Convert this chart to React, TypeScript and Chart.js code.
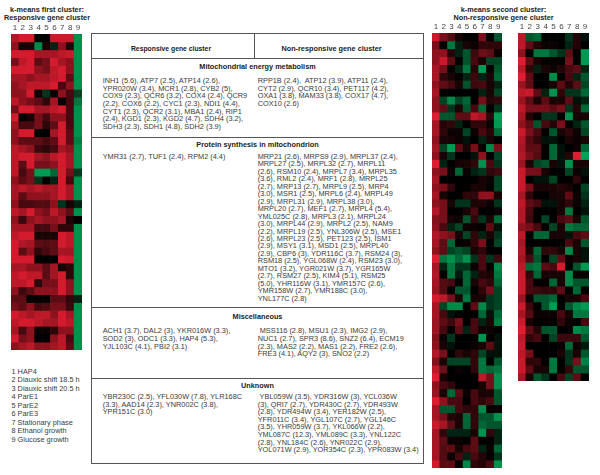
import React, { useEffect, useRef } from "react";
import { Chart, registerables } from "chart.js";

Chart.register(...registerables);

const FONT = "'Liberation Sans', Arial, sans-serif";
const conditions = ["1", "2", "3", "4", "5", "6", "7", "8", "9"];

const firstCluster: number[][] = [
  [.75,.9,.9,0,0,.85,.85,.85,-.85],
  [.6,.1,.1,-.8,.1,-.2,.6,.15,-.85],
  [.9,.9,.9,.7,.7,.7,.8,.85,-.85],
  [.5,.8,.9,.4,.5,.9,.7,.6,-.85],
  [.9,.9,.9,.6,.5,.8,.9,.6,-.85],
  [.7,.7,.6,.7,.7,.8,.9,.4,-.85],
  [.6,.7,.8,.8,.8,.9,.3,.6,-.85],
  [.6,.6,.9,.05,-.3,.05,.6,.3,-.4],
  [.8,.6,.5,.4,.2,.7,0,.3,-.7],
  [.5,.9,.9,.7,.7,.8,.9,.3,-.85],
  [.9,0,.1,.5,.3,.6,.6,.3,-.85],
  [.7,.3,.3,.5,.2,.4,.9,.3,-.85],
  [.6,.9,.9,0,0,.7,.9,.4,-.85],
  [.6,.4,.4,.4,.3,.4,.9,.4,-.75],
  [.8,.7,.6,.25,.2,.3,.7,.6,-.85],
  [.8,.9,.9,.7,.6,.8,.9,.7,-.85],
  [.8,.4,.9,.5,.5,.6,.9,.7,-.85],
  [.8,.3,.5,-.9,-.9,-.6,.9,.5,-.35],
  [.6,.4,.5,-.3,0,-.2,.9,.3,-.85],
  [.7,.8,.7,.8,.7,.7,.9,.7,-.85],
  [.7,.4,.6,.6,.6,.7,.9,.7,-.85],
  [.6,.3,.3,.35,.35,.6,-.3,.1,-.2],
  [.8,.7,.9,.6,.5,.8,.6,.4,-.85],
  [.6,.25,.6,.7,.6,.6,.7,.1,0],
  [.7,.7,.7,.3,.3,.5,.2,.2,-.85],
  [.8,.9,.9,.1,.1,.1,.9,.8,-.85],
  [.9,.75,.7,.4,.35,.4,.9,.8,-.85],
  [.9,.4,.6,.2,.3,.4,.7,.7,-.85],
  [.9,.9,.9,0,0,0,.9,.85,-.85],
  [.7,.7,.6,.6,.4,.7,.1,.2,-.85],
  [.8,.9,.8,.8,.4,.7,.9,.2,-.85],
  [.8,.8,.9,.2,.5,.5,.9,.6,-.85],
  [.6,.25,.4,.6,.6,.6,.9,.6,-.85],
  [.4,.4,0,0,0,.4,.4,.2,-.2],
  [.5,.4,.6,.3,.35,.5,.5,.25,-.85],
  [.9,.8,.7,.8,.8,.6,.9,.7,-.85],
  [.8,.9,.9,.8,.7,.7,.9,.8,-.85],
  [.7,.3,.6,.05,.05,.2,.6,.6,-.85],
  [.9,.5,.6,0,0,.6,.8,.3,-.85],
  [.6,.7,.8,.6,.6,.7,.8,.4,-.85],
];

const secondClusterA: number[][] = [
  [.85,.5,.35,.1,0,0,.5,0,-.5],
  [.5,0,-.7,-.2,.1,.05,.2,.2,.2],
  [.6,.6,.15,-.2,-.5,.25,.45,.4,.05],
  [.6,.85,.4,0,-.5,.3,.1,-.4,-.4],
  [.7,.5,0,-.2,-.7,.15,-.9,0,-.5],
  [.7,.2,.1,0,-.2,.25,-.2,.1,-.6],
  [.6,.4,.3,.1,-.5,.25,.3,.1,-.2],
  [.7,0,0,0,0,0,-.2,.1,-.4],
  [.6,-.4,-.8,-.4,-.6,0,.5,.15,.2],
  [.6,.4,-.3,.1,-.5,.3,-.6,0,-.3],
  [.95,-.5,-.5,.4,.4,.8,.7,.2,-.95],
  [.7,.15,.2,-.2,0,.2,.2,.05,-.9],
  [.7,.2,.05,.05,-.4,.05,.3,.15,-.6],
  [.6,.1,.1,.05,-.1,0,-.2,.1,0],
  [.7,-.4,-.9,.4,.1,.5,0,-.8,.5],
  [.6,.1,-.3,0,0,-.1,.6,0,-.4],
  [.95,-.2,0,.1,.1,.2,-.85,.3,-.3],
  [.6,.5,.05,-.6,.05,-.2,-.3,.2,.25],
  [.7,0,0,0,0,0,.1,.05,-.4],
  [.6,.5,.2,0,0,.1,.1,0,-.4],
  [.7,.1,0,0,.2,.2,.6,.6,.1],
  [.6,.5,.1,-.3,-.3,.1,.15,.05,-.3],
  [.75,.5,0,0,.1,.3,0,0,.05],
  [.55,.5,.1,.05,-.5,.2,-.3,.1,-.6],
  [.6,.3,-.2,-.4,.05,.05,0,.4,-.1],
  [.75,.6,.5,.1,-.4,.2,-.2,.1,-.3],
  [.7,.4,-.6,0,.05,.2,.5,0,-.4],
  [.6,.4,-.4,-.5,-.4,.1,.2,0,0],
  [.95,-.7,-.85,-.6,-.85,-.3,.3,-.3,.25],
  [.7,-.2,-.7,-.3,-.3,.05,.3,0,-.8],
  [.75,0,-.7,-.15,-.6,-.2,.15,.1,-.7],
  [.7,.35,.3,0,-.6,.1,.3,.2,-.6],
  [.65,.35,0,-.5,-.5,0,.2,.5,-.4],
  [.9,.8,.5,.1,-.7,.1,.1,-.3,-.4],
  [.7,-.4,-.8,-.8,0,.4,-.8,-.3,-.4],
  [.7,.3,-.1,0,0,0,-.6,-.1,-.6],
  [.65,.4,.25,.5,0,.3,-.2,.1,-.7],
  [.65,.3,0,.4,-.2,.3,.05,.05,0],
  [.55,.05,-.3,0,0,0,-.85,0,-.1],
  [.6,.1,-.1,0,0,.05,.1,.4,-.1],
  [.75,.5,0,.2,.1,.2,-.4,-.1,-.1],
  [.55,.1,-.4,-.4,-.4,.2,-.7,0,-.5],
  [.8,.45,0,.05,0,.2,-.7,-.6,-.7],
  [.95,.1,0,0,0,0,.8,.5,-.85],
  [.6,.3,.2,0,0,0,.1,.5,-.85],
  [.65,.1,-.6,.4,.05,.3,.1,.1,-.5],
  [.95,.6,.3,.3,0,.3,.2,.3,-.5],
  [.7,-.5,-.5,.3,.2,.2,-.8,0,0],
  [.7,.5,.15,.1,-.6,.2,-.5,-.5,-.85],
  [.85,.7,.4,.1,-.6,.2,-.6,-.5,-.5],
  [.7,.2,-.2,-.2,-.2,.1,-.85,.2,-.2],
  [.7,.4,.05,.05,0,.4,0,0,-.2],
  [.7,.35,.4,.1,.3,.4,-.2,.05,-.6],
  [.7,.35,.05,.3,-.2,.3,.15,0,-.3],
  [.9,.4,.4,0,-.8,.2,.15,.3,-.85],
];

const secondClusterB: number[][] = [
  [.8,-.5,-.6,0,0,0,-.3,.15,-.1],
  [.8,.4,.15,.05,.05,0,-.2,.15,0],
  [.6,0,-.7,-.7,-.5,-.3,.4,0,-.9],
  [.95,.4,.1,0,0,0,.5,.02,-.9],
  [.8,.2,-.2,.1,.05,.15,.3,.4,-.2],
  [.95,.4,0,0,-.8,0,.3,-.2,-.5],
  [.65,.4,0,0,.1,.4,.15,.4,-.4],
  [.8,.85,.4,-.2,-.85,.2,-.3,-.3,-.6],
  [.65,.4,.1,.4,.1,.1,.4,-.1,-.2],
  [.8,.5,.5,.5,.4,.5,-.3,.15,-.6],
  [.7,.15,0,-.3,-.3,0,-.85,.1,.1],
  [.6,.4,-.5,.3,.15,.5,0,-.2,-.5],
  [.85,.5,.3,0,-.5,.1,.2,.05,-.4],
  [.75,.35,.2,-.1,-.1,0,.1,.05,.1],
  [.7,.4,.4,0,-.6,-.1,0,.05,-.6],
  [.75,.5,.35,0,-.6,-.1,.15,.95,-.95],
  [.65,.1,-.4,-.5,.1,-.1,-.85,.1,.1],
  [.85,.5,.5,.1,0,0,-.4,.05,-.1],
  [.85,0,-.1,-.1,-.4,0,0,.2,0],
  [.85,.5,.1,.1,.1,.15,.1,0,-.4],
  [.7,.2,0,0,.1,.1,.4,.05,-.3],
  [.8,.4,.3,-.1,-.1,.1,.2,.05,-.2],
  [.75,.3,0,0,0,.1,-.7,0,-.1],
  [.75,.25,0,-.4,0,.3,.4,.1,-.5],
  [.6,.5,.3,0,-.4,.1,-.7,-.6,-.6],
  [.8,0,-.6,-.6,.1,.1,-.1,.3,.4],
  [.7,0,0,0,0,0,.3,.1,-.5],
  [.75,.1,-.6,.2,.2,.1,-.8,.1,-.1],
  [.7,.3,-.5,0,-.4,.4,.05,.1,-.1],
  [.8,-.6,-.7,.4,.3,.9,0,-.5,-.9],
  [.85,.2,-.6,.1,.1,.1,-.8,.05,.05],
  [.85,.3,0,0,-.6,.1,-.8,-.5,-.5],
  [.85,.3,.25,.2,.2,.4,0,-.6,0],
  [.65,.05,-.5,-.5,-.6,0,.1,.1,.3],
  [.85,.25,0,-.5,-.9,0,-.5,-.8,-.9],
  [.7,.35,.05,.05,.05,.3,.1,-.7,-.7],
  [.85,.1,0,0,0,.2,.05,0,.3],
  [.95,.4,.15,-.5,-.5,0,0,-.8,-.7],
  [.8,.2,.3,0,-.4,.25,.25,.25,-.5],
  [.85,0,0,0,0,0,-.6,.05,-.15],
  [.8,.5,0,0,0,.1,-.3,.1,-.5],
  [.85,.2,.2,0,-.7,0,-.3,.5,-.75],
  [.85,.4,.1,.1,-.7,0,.2,-.5,-.5],
  [.7,.1,-.5,-.3,0,.3,-.4,.4,0],
];

const legendItems = [
  "1 HAP4", "2 Diauxic shift 18.5 h", "3 Diauxic shift 20.5 h", "4 ParE1", "5 ParE2",
  "6 ParE3", "7 Stationary phase", "8 Ethanol growth", "9 Glucose growth",
];

const energyResponsive = [
  "INH1 (5.6), ATP7 (2.5), ATP14 (2.6),",
  "YPR020W (3.4), MCR1 (2.8), CYB2 (5),",
  "COX9 (2.3), QCR6 (3.2), COX4 (2.4), QCR9",
  "(2.2), COX6 (2.2), CYC1 (2.3), NDI1 (4.4),",
  "CYT1 (2.3), QCR2 (3.1), MBA1 (2.4), RIP1",
  "(2.4), KGD1 (2.3), KGD2 (4.7), SDH4 (3.2),",
  "SDH3 (2.3), SDH1 (4.8), SDH2 (3.9)",
];
const energyOther = [
  "RPP1B (2.4),  ATP12 (3.9), ATP11 (2.4),",
  "CYT2 (2.9), QCR10 (3.4), PET117 (4.2),",
  "OXA1 (3.8), MAM33 (3.8), COX17 (4.7),",
  "COX10 (2.6)",
];
const proteinResponsive = ["YMR31 (2.7), TUF1 (2.4), RPM2 (4.4)"];
const proteinOther = [
  "MRP21 (2.6), MRPS9 (2.9), MRPL37 (2.4),",
  "MRPL27 (2.5), MRPL32 (2.7), MRPL11",
  "(2.6), RSM10 (2.4), MRPL7 (3.4), MRPL35",
  "(3.6), RML2 (2.4), MRF1 (2.8), MRPL25",
  "(2.7), MRP13 (2.7), MRPL9 (2.5), MRP4",
  "(3.0), MSR1 (2.5), MRPL6 (2.4), MRPL49",
  "(2.9), MRPL31 (2.9), MRPL38 (3.0),",
  "MRPL20 (2.7), MEF1 (2.7), MRPL4 (5.4),",
  "YML025C (2.8), MRPL3 (2.1), MRPL24",
  "(3.0), MRPL44 (2.9), MRPL2 (2.5), NAM9",
  "(2.2), MRPL19 (2.5), YNL306W (2.5), MSE1",
  "(2.6), MRPL23 (2.5), PET123 (2.5), ISM1",
  "(2.9), MSY1 (3.1), MSD1 (2.5), MRPL40",
  "(2.9), CBP6 (3), YDR116C (3.7), RSM24 (3),",
  "RSM18 (2.5), YGL068W (2.4), RSM23 (3.0),",
  "MTO1 (3.2), YGR021W (3.7), YGR165W",
  "(2.7), RSM27 (2.5), KIM4 (5.1), RSM25",
  "(5.0), YHR116W (3.1), YMR157C (2.6),",
  "YMR158W (2.7), YMR188C (3.0),",
  "YNL177C (2.8)",
];
const miscResponsive = [
  "ACH1 (3.7), DAL2 (3), YKR016W (3.3),",
  "SOD2 (3), ODC1 (3.3), HAP4 (5.3),",
  "YJL103C (4.1), PBI2 (3.1)",
];
const miscOther = [
  " MSS116 (2.8), MSU1 (2.3), IMG2 (2.9),",
  "NUC1 (2.7), SPR3 (8.6), SNZ2 (6.4), ECM19",
  "(2.3), MAS2 (2.2), MAS1 (2.2), FRE2 (2.6),",
  "FRE3 (4.1), AQY2 (3), SNO2 (2.2)",
];
const unknownResponsive = [
  "YBR230C (2.5), YFL030W (7.8), YLR168C",
  "(3.3), AAD14 (2.3), YNR002C (3.8),",
  "YPR151C (3.0)",
];
const unknownOther = [
  " YBL059W (3.5), YDR316W (3), YCL036W",
  "(3), QRI7 (2.7), YDR430C (2.7), YDR493W",
  "(2.8), YDR494W (3.4), YER182W (2.5),",
  "YFR011C (3.4), YGL107C (2.7), YGL146C",
  "(3.5), YHR059W (3.7), YKL066W (2.2),",
  "YML087C (12.3), YML089C (3.3), YNL122C",
  "(2.8), YNL184C (2.6), YNR022C (2.9),",
  "YOL071W (2.9), YOR354C (2.3), YPR083W (3.4)",
];

function cellColor(v: number): string {
  if (v >= 0) return `rgb(${Math.round(236 * v)},${Math.round(30 * v)},${Math.round(50 * v)})`;
  const a = -v;
  return `rgb(0,${Math.round(170 * a)},${Math.round(90 * a)})`;
}

const TICK_BAND = 13;

function Heatmap({ rows, left, top, width, height }: { rows: number[][]; left: number; top: number; width: number; height: number }) {
  const ref = useRef<HTMLCanvasElement>(null);
  useEffect(() => {
    const chart = new Chart(ref.current!, {
      type: "bar",
      data: {
        labels: conditions,
        datasets: rows.map((row, r) => ({
          data: row.map(() => [r, r + 1]),
          backgroundColor: row.map(cellColor),
          borderWidth: 0,
          barPercentage: 1,
          categoryPercentage: 1,
          grouped: false,
        })) as any,
      },
      options: {
        animation: false,
        responsive: false,
        devicePixelRatio: 1,
        layout: { padding: 0 },
        plugins: { legend: { display: false }, title: { display: false }, tooltip: { enabled: false } },
        scales: {
          x: {
            position: "top",
            grid: { display: false, drawTicks: false },
            border: { display: false },
            ticks: { color: "#444", font: { family: FONT, size: 8 }, padding: 1, maxRotation: 0, autoSkip: false },
            afterFit: (s: any) => { s.height = TICK_BAND; },
          },
          y: { display: false, reverse: true, min: 0, max: rows.length },
        },
      } as any,
    });
    return () => chart.destroy();
  }, [rows]);
  return (
    <canvas ref={ref} width={width} height={height + TICK_BAND}
      style={{ position: "absolute", left, top: top - TICK_BAND, width, height: height + TICK_BAND }} />
  );
}

const textColor = "#3a3a3a";
const BODY_SIZE = 7.35;

function Lines({ lines, left, top, lead = 7.6 }: { lines: string[]; left: number; top: number; lead?: number }) {
  return (
    <div style={{ position: "absolute", left, top, fontSize: BODY_SIZE, lineHeight: `${lead}px`, color: textColor, whiteSpace: "pre" }}>
      {lines.map((l, i) => <div key={i}>{l}</div>)}
    </div>
  );
}

function Centered({ text, left, width, top, size = 7.3 }: { text: string; left: number; width: number; top: number; size?: number }) {
  return (
    <div style={{ position: "absolute", left, width, top, textAlign: "center", fontSize: size, fontWeight: 700, lineHeight: "9px", color: "#222", whiteSpace: "nowrap" }}>
      {text}
    </div>
  );
}

function Rule({ left, top, width, height }: { left: number; top: number; width: number; height: number }) {
  return <div style={{ position: "absolute", left, top, width, height, background: "#555" }} />;
}

export default function App() {
  return (
    <div style={{ position: "absolute", left: 0, top: 0, width: 600, height: 475, overflow: "hidden", background: "#fff", fontFamily: FONT }}>
      <Centered text="k-means first cluster:" left={2} width={90} top={5} />
      <Centered text="Responsive gene cluster" left={2} width={90} top={13} />
      <Heatmap rows={firstCluster} left={11} top={34} width={71} height={316} />

      <div style={{ position: "absolute", left: 11.5, top: 367.5, fontSize: BODY_SIZE, lineHeight: "8.55px", color: textColor, whiteSpace: "pre" }}>
        {legendItems.map((l) => <div key={l}>{l}</div>)}
      </div>

      <Rule left={91} top={33} width={1} height={431} />
      <Rule left={423} top={33} width={1} height={431} />
      <Rule left={91} top={33} width={333} height={1} />
      <Rule left={91} top={58} width={333} height={1} />
      <Rule left={91} top={137} width={333} height={1} />
      <Rule left={91} top={307} width={333} height={1} />
      <Rule left={91} top={378} width={333} height={1} />
      <Rule left={91} top={463} width={333} height={1} />
      <Rule left={254} top={33} width={1} height={25} />

      <Centered text="Responsive gene cluster" left={90} width={162} top={43.5} size={6.8} />
      <Centered text="Non-responsive gene cluster" left={247.5} width={168} top={43.5} />
      <Centered text="Mitochondrial energy metabolism" left={92} width={331} top={61.5} />
      <Lines lines={energyResponsive} left={102.7} top={77.2} />
      <Lines lines={energyOther} left={257.7} top={77.2} />
      <Centered text="Protein synthesis in mitochondrion" left={92} width={331} top={139.5} />
      <Lines lines={proteinResponsive} left={102.7} top={153} lead={7.46} />
      <Lines lines={proteinOther} left={257.7} top={153} lead={7.46} />
      <Centered text="Miscellaneous" left={92} width={331} top={311.5} />
      <Lines lines={miscResponsive} left={102.7} top={327} lead={7.8} />
      <Lines lines={miscOther} left={257.7} top={327} lead={7.8} />
      <Centered text="Unknown" left={92} width={331} top={380.5} />
      <Lines lines={unknownResponsive} left={102.7} top={393} />
      <Lines lines={unknownOther} left={257.7} top={393} />

      <Centered text="k-means second cluster:" left={432} width={143} top={5} />
      <Centered text="Non-responsive gene cluster" left={432} width={143} top={13} />
      <Heatmap rows={secondClusterA} left={432} top={33} width={70} height={435} />
      <Heatmap rows={secondClusterB} left={518} top={33} width={71} height={348} />
    </div>
  );
}
